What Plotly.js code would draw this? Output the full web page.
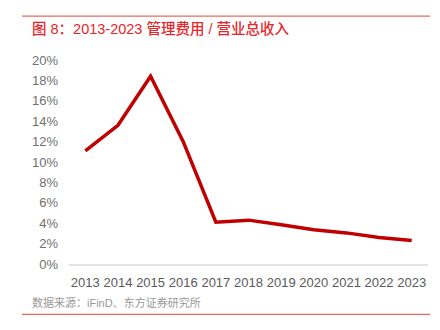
<!DOCTYPE html>
<html>
<head>
<meta charset="utf-8">
<script src="https://cdn.plot.ly/plotly-3.0.1.min.js"></script>
<style>html,body{margin:0;padding:0;background:#fff;}#chart{width:440px;height:330px;}</style>
</head>
<body>
<div id="chart"></div>
<script>
const years = ['2013','2014','2015','2016','2017','2018','2019','2020','2021','2022','2023'];
const ratio = [11.1, 13.6, 18.4, 12.0, 4.1, 4.3, 3.85, 3.35, 3.05, 2.6, 2.3];
const yTicks = [0,2,4,6,8,10,12,14,16,18,20];
const yTickText = yTicks.map(v => v + '%');
const titleText = '图 8：2013-2023 管理费用 / 营业总收入';
const sourceText = '数据来源：iFinD、东方证券研究所';

const W = 440, H = 330;
const L = 69, R = 428, T = 60, B = 264.5;
const px = x => (x - L) / (R - L);
const py = y => (B - y) / (B - T);

const trace = {
  x: years, y: ratio, type: 'scatter', mode: 'lines',
  line: {color: '#c00000', width: 3.5},
  hoverinfo: 'skip'
};

const layout = {
  width: W, height: H,
  margin: {l: L, r: W - R, t: T, b: H - B, pad: 0},
  paper_bgcolor: '#fff', plot_bgcolor: '#fff',
  showlegend: false,
  font: {family: '"Liberation Sans", Arial, "Noto Sans CJK SC", sans-serif', color: '#666'},
  xaxis: {
    type: 'category', range: [-0.5, 10.5], showgrid: false, zeroline: false,
    showline: true, linecolor: '#e3e3e3', linewidth: 2,
    ticks: '', tickfont: {size: 13, color: '#595959'}, ticklabelstandoff: 5
  },
  yaxis: {
    range: [0, 20], tickvals: yTicks, ticktext: yTickText,
    showgrid: false, zeroline: false, showline: false, ticks: '',
    tickfont: {size: 13, color: '#707070'}, ticklabelstandoff: 10
  },
  shapes: [
    {type: 'line', xref: 'paper', yref: 'paper', x0: px(22), x1: px(430), y0: py(16), y1: py(16), line: {color: '#e8685f', width: 1.2}},
    {type: 'line', xref: 'paper', yref: 'paper', x0: px(22), x1: px(430), y0: py(315), y1: py(315), line: {color: '#e8685f', width: 1.2}}
  ],
  annotations: [
    {text: titleText, xref: 'paper', yref: 'paper', x: px(30), y: py(28), xanchor: 'left', yanchor: 'middle', showarrow: false,
     font: {family: '"Liberation Sans", "Noto Sans CJK SC", sans-serif', size: 14.5, color: '#e8262a', weight: 500}},
    {text: sourceText, xref: 'paper', yref: 'paper', x: px(30), y: py(303), xanchor: 'left', yanchor: 'middle', showarrow: false,
     font: {family: '"Liberation Sans", "Noto Sans CJK SC", sans-serif', size: 11, color: '#999'}}
  ]
};

Plotly.newPlot('chart', [trace], layout, {staticPlot: true, displayModeBar: false});
</script>
</body>
</html>
